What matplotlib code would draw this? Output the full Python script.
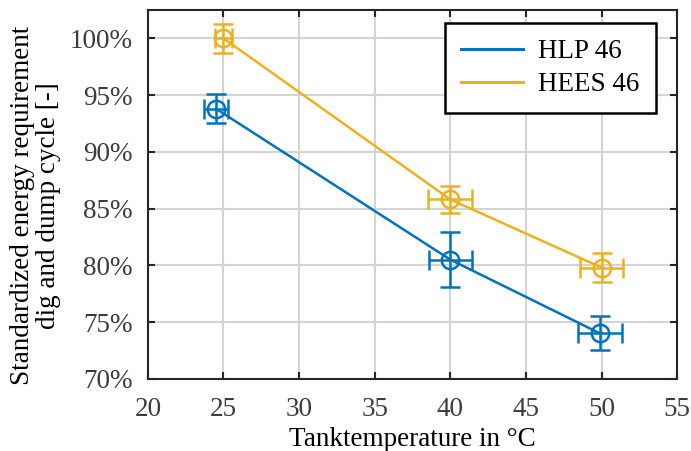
import matplotlib
matplotlib.use("Agg")
import matplotlib.pyplot as plt
import matplotlib.ticker as mticker

plt.rcParams["font.family"] = ["Liberation Serif", "DejaVu Serif"]

# ── data ──────────────────────────────────────────────────────
series_names = ["HLP 46", "HEES 46"]

hlp_temp = [24.5, 40.0, 49.9]
hlp_energy = [93.8, 80.5, 74.0]
hlp_temp_err = [0.8, 1.4, 1.45]
hlp_energy_err = [1.3, 2.4, 1.5]

hees_temp = [25.0, 40.0, 50.0]
hees_energy = [100.0, 85.8, 79.8]
hees_temp_err = [0.55, 1.45, 1.4]
hees_energy_err = [1.3, 1.2, 1.25]

x_ticks = [20, 25, 30, 35, 40, 45, 50, 55]
y_ticks = [70, 75, 80, 85, 90, 95, 100]

COLORS = ["#0072BD", "#EDB120"]
AX_COLOR = "#262626"
FS = 19.5

fig = plt.figure(figsize=(6.91, 4.51), dpi=100)
ax = fig.add_axes([0.214, 0.160, 0.766, 0.818])

for name, x, y, xe, ye, c in [
    (series_names[0], hlp_temp, hlp_energy, hlp_temp_err, hlp_energy_err, COLORS[0]),
    (series_names[1], hees_temp, hees_energy, hees_temp_err, hees_energy_err, COLORS[1]),
]:
    ax.plot(x, y, color=c, linewidth=1.8, label=name, zorder=3)
    ax.errorbar(x, y, xerr=xe, yerr=ye, fmt="o", color=c,
                markerfacecolor="none", markeredgewidth=1.8, markersize=12.5,
                elinewidth=1.8, capsize=7.5, capthick=1.8, zorder=4)

ax.set_xlim(20, 55)
ax.set_ylim(70, 102.5)
ax.set_xticks(x_ticks)
ax.set_yticks(y_ticks)
ax.yaxis.set_major_formatter(mticker.FuncFormatter(lambda v, _: f"{v:.0f}%"))

ax.grid(True, color="#d4d4d4", linewidth=1.5)
ax.set_axisbelow(True)
ax.tick_params(direction="in", length=5, width=1.5, top=True, right=True,
               colors=AX_COLOR, labelsize=FS)
ax.tick_params(axis="y", pad=11)
ax.tick_params(axis="x", pad=13)
for lbl in ax.get_xticklabels() + ax.get_yticklabels():
    lbl.set_color("#3c3c3c")
for sp in ax.spines.values():
    sp.set_color(AX_COLOR)
    sp.set_linewidth(1.5)

ax.set_xlabel("Tanktemperature in °C", fontsize=FS, labelpad=4)
ax.set_ylabel("Standardized energy requirement\ndig and dump cycle [-]",
              fontsize=FS, linespacing=1.05)
ax.yaxis.set_label_coords(-0.165, 0.47)

leg = ax.legend(loc="upper right", bbox_to_anchor=(0.960, 0.965),
                borderaxespad=0, fontsize=FS, handlelength=2.3,
                handletextpad=0.55, fancybox=False, framealpha=1,
                edgecolor="black", borderpad=0.6, labelspacing=0.3)
leg.get_frame().set_linewidth(1.8)
for ln in leg.get_lines():
    ln.set_linewidth(2.2)

fig.savefig("out.png", dpi=100)
